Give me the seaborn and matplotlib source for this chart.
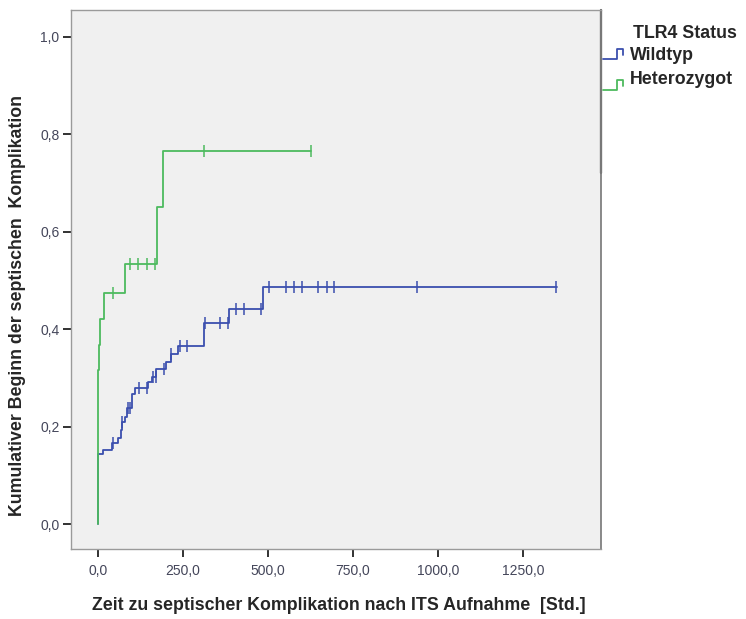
import matplotlib
matplotlib.use("Agg")
import matplotlib.pyplot as plt
from matplotlib.lines import Line2D
import seaborn as sns
import pandas as pd

# ---- data ----
wt_time = [0, 1, 15, 41, 61, 68, 72.5, 80, 85, 100, 110, 149, 159, 171.5, 201, 215, 237, 313, 387, 487, 1350]
wt_cum = [0.0, 0.144, 0.152, 0.166, 0.176, 0.193, 0.210, 0.220, 0.238, 0.268, 0.279, 0.291, 0.302, 0.318,
          0.333, 0.349, 0.365, 0.412, 0.441, 0.486, 0.486]
wt_cens_time = [46, 72, 88, 94, 120, 144, 164, 170, 195, 216, 242, 264, 315, 360, 384, 407, 431, 480,
                504, 553, 577, 600, 649, 674, 696, 938, 1347]
wt_cens_cum = [0.166, 0.210, 0.238, 0.238, 0.279, 0.279, 0.302, 0.302, 0.318, 0.349, 0.365, 0.365,
               0.412, 0.412, 0.412, 0.441, 0.441, 0.441,
               0.486, 0.486, 0.486, 0.486, 0.486, 0.486, 0.486, 0.486, 0.486]

het_time = [0, 1, 4, 6, 18, 80, 175, 193, 626]
het_cum = [0.0, 0.316, 0.367, 0.42, 0.475, 0.534, 0.65, 0.766, 0.766]
het_cens_time = [46, 95, 119, 144, 168, 313, 626]
het_cens_cum = [0.475, 0.534, 0.534, 0.534, 0.534, 0.766, 0.766]

groups = ["Wildtyp", "Heterozygot"]
legend_title = "TLR4 Status"
x_ticks = [0, 250, 500, 750, 1000, 1250]
y_ticks = [0.0, 0.2, 0.4, 0.6, 0.8, 1.0]
x_label = "Zeit zu septischer Komplikation nach ITS Aufnahme  [Std.]"
y_label = "Kumulativer Beginn der septischen  Komplikation"

colors = {"Wildtyp": "#3b4fae", "Heterozygot": "#4dba5e"}

steps = pd.concat([
    pd.DataFrame({"t": wt_time, "cum": wt_cum, "grp": "Wildtyp"}),
    pd.DataFrame({"t": het_time, "cum": het_cum, "grp": "Heterozygot"}),
])
cens = pd.concat([
    pd.DataFrame({"t": wt_cens_time, "cum": wt_cens_cum, "grp": "Wildtyp"}),
    pd.DataFrame({"t": het_cens_time, "cum": het_cens_cum, "grp": "Heterozygot"}),
])

sns.set_style("ticks")
plt.rcParams["font.family"] = ["Liberation Sans", "DejaVu Sans"]

fig = plt.figure(figsize=(7.46, 6.19), dpi=100)
W, H = 746, 619
ax = fig.add_axes([70.7 / W, (H - 549) / H, (600.7 - 70.7) / W, (549 - 10) / H])
ax.set_facecolor("#f0f0f0")

for g in groups:
    sub = steps[steps.grp == g]
    sns.lineplot(data=sub, x="t", y="cum", ax=ax, color=colors[g], lw=1.3,
                 drawstyle="steps-post", estimator=None, sort=False, legend=False)
    sc = cens[cens.grp == g]
    sns.scatterplot(data=sc, x="t", y="cum", ax=ax, color=colors[g], marker="|",
                    s=70, linewidth=1.1, legend=False)

ax.set_xlim(-79.4, 1479)
ax.set_ylim(-0.051, 1.055)
ax.set_xticks(x_ticks)
ax.set_xticklabels([f"{v:.1f}".replace(".", ",") for v in x_ticks])
ax.set_yticks(y_ticks)
ax.set_yticklabels([f"{v:.1f}".replace(".", ",") for v in y_ticks])
ax.tick_params(axis="both", which="major", direction="out", length=6, width=1.3, color="#222222",
               labelsize=10, labelcolor="#44465a", pad=2, bottom=True, left=True)
ax.tick_params(axis="x", pad=5)
ax.set_xlabel(x_label, fontsize=12.8, fontweight="bold")
ax.set_ylabel(y_label, fontsize=12.8, fontweight="bold")
ax.xaxis.set_label_coords((339 - 70.7) / 530, -(605 - 549) / 539)
ax.yaxis.set_label_coords(-(70.7 - 18) / 530, (549 - 306) / 539)
ax.xaxis.label.set_va("center")
ax.yaxis.label.set_va("center")

for side in ["top", "left", "bottom"]:
    ax.spines[side].set_color("#9a9a9a")
    ax.spines[side].set_linewidth(1.0)
ax.spines["right"].set_color("#808080")
ax.spines["right"].set_linewidth(1.3)
ax.plot([1, 1], [0.698, 1.0], transform=ax.transAxes, color="#303030", lw=1.6, clip_on=False)

# legend (outside right)
def fx(px):
    return px / W

def fy(py):
    return (H - py) / H

fig.text(fx(633), fy(33), legend_title, fontsize=12.8, fontweight="bold", va="center", ha="left")
sym_y = {"Wildtyp": (59, 49), "Heterozygot": (90, 80)}
text_y = {"Wildtyp": 55, "Heterozygot": 80}
for g in groups:
    lo, hi = sym_y[g]
    xs = [fx(603), fx(617), fx(617), fx(623), fx(623)]
    ys = [fy(lo), fy(lo), fy(hi), fy(hi), fy(hi + 6)]
    fig.add_artist(Line2D(xs, ys, color=colors[g], lw=1.3, transform=fig.transFigure))
    fig.text(fx(630), fy(text_y[g]), g, fontsize=12.8, fontweight="bold", va="center", ha="left")

fig.savefig("out.png", dpi=100, facecolor="white")
